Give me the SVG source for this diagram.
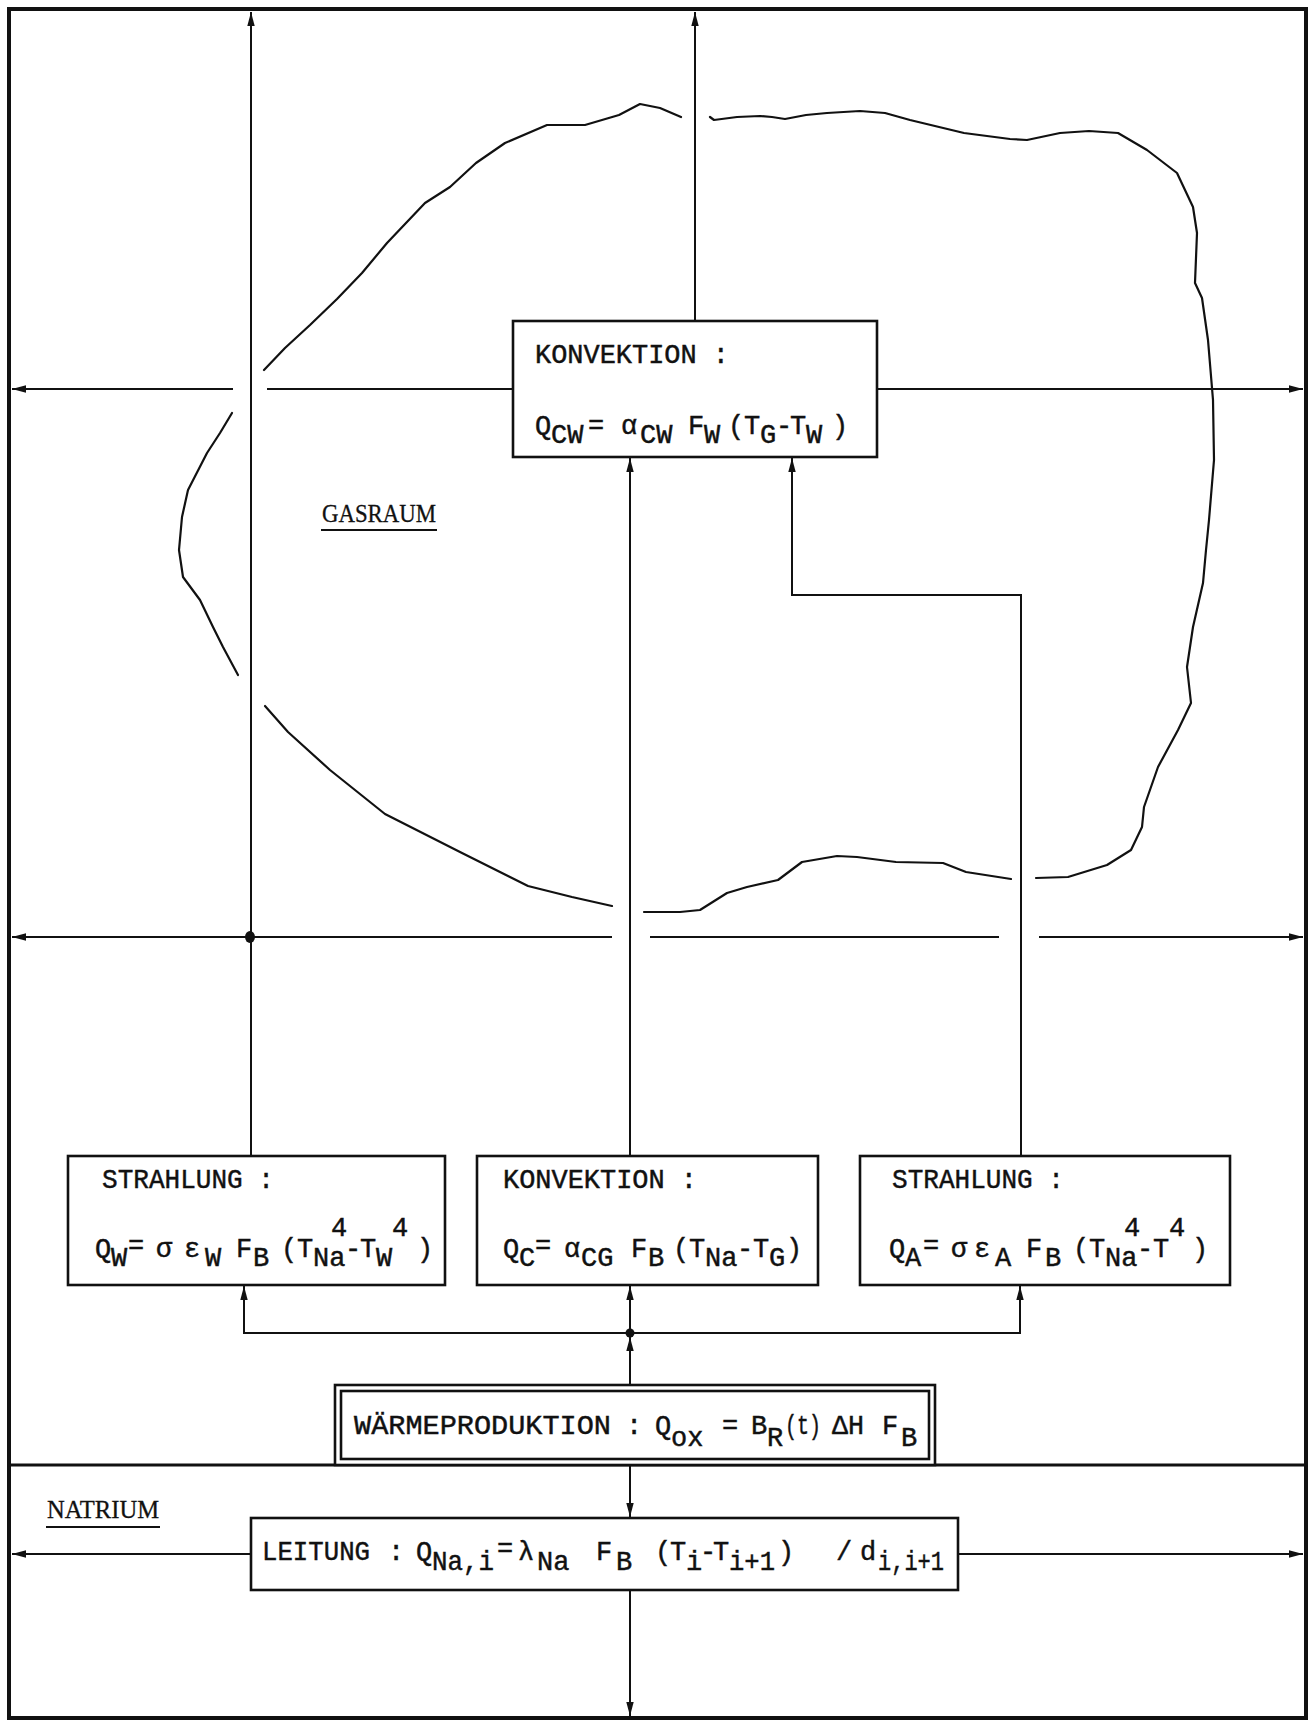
<svg xmlns="http://www.w3.org/2000/svg" width="1314" height="1725" viewBox="0 0 1314 1725">
<style>
.frame{fill:none;stroke:#111;stroke-width:4}
.div{fill:none;stroke:#111;stroke-width:3}
.box{fill:#fff;stroke:#111;stroke-width:2.6}
.ln{fill:none;stroke:#111;stroke-width:2}
.blob{fill:none;stroke:#111;stroke-width:2.2;stroke-linejoin:round;stroke-linecap:round}
.t{font-family:"Liberation Mono","DejaVu Sans Mono",monospace;font-size:27px;fill:#111;stroke:#111;stroke-width:0.45}
.lbl{font-family:"Liberation Serif","Times New Roman",serif;font-size:25px;fill:#111;stroke:#111;stroke-width:0.3}
.ul{stroke:#111;stroke-width:2}
</style>
<defs>
<marker id="ah" markerWidth="15" markerHeight="9" refX="14" refY="4.5" orient="auto" markerUnits="userSpaceOnUse"><path d="M0,0.8 L14,4.5 L0,8.2 Z" fill="#111"/></marker>
</defs>
<rect width="1314" height="1725" fill="#fff"/>
<g id="frame">
<rect class="frame" x="9" y="9" width="1297" height="1709"/>
<line class="div" x1="9" y1="1465" x2="1306" y2="1465"/>
</g>
<g id="gasraum-outline">
<polyline class="blob" points="264,370 285,348 310,325 337,299 362,273 387,243 425,203 450,187 476,163 505,143 547,125 585,125 619,115 640,104 660,108 681,117"/>
<polyline class="blob" points="710,117 714,120 737,117 760,116 772,117 785,119 806,115 827,113 860,111 885,113 910,120 964,133 1010,139 1027,140 1060,133 1089,131 1118,133 1147,150 1177,173 1193,207 1197,233 1195,283 1202,298 1208,340 1213,400 1214,460 1209,520 1206,550 1203,583 1193,627 1187,667 1191,703 1178,730 1158,767 1144,807 1142,827 1131,850 1107,865 1068,877 1036,878"/>
<polyline class="blob" points="1011,879 966,872 943,863 896,862 857,857 837,856 802,862 778,880 747,887 727,893 700,910 680,912 644,912"/>
<polyline class="blob" points="612,906 572,897 528,886 462,853 385,814 330,770 288,732 265,706"/>
<polyline class="blob" points="232,413 220,433 207,453 188,490 182,517 179,550 183,577 200,600 213,627 223,647 238,675"/>
</g>
<g id="label-gasraum">
<text class="lbl" x="322" y="522" textLength="114" lengthAdjust="spacingAndGlyphs">GASRAUM</text>
<line class="ul" x1="321" y1="530" x2="437" y2="530"/>
</g>
<g id="label-natrium">
<text class="lbl" x="47" y="1518" textLength="112" lengthAdjust="spacingAndGlyphs">NATRIUM</text>
<line class="ul" x1="46" y1="1527" x2="160" y2="1527"/>
</g>
<g id="connectors">
<line class="ln" x1="251" y1="1156" x2="251" y2="12" marker-end="url(#ah)"/>
<line class="ln" x1="695" y1="321" x2="695" y2="12" marker-end="url(#ah)"/>
<line class="ln" x1="513" y1="389" x2="267" y2="389"/>
<line class="ln" x1="233" y1="389" x2="12" y2="389" marker-end="url(#ah)"/>
<line class="ln" x1="877" y1="389" x2="1303" y2="389" marker-end="url(#ah)"/>
<line class="ln" x1="630" y1="1156" x2="630" y2="458" marker-end="url(#ah)"/>
<polyline class="ln" points="1021,1156 1021,595 792,595 792,458" marker-end="url(#ah)"/>
<line class="ln" x1="250" y1="937" x2="12" y2="937" marker-end="url(#ah)"/>
<line class="ln" x1="250" y1="937" x2="612" y2="937"/>
<line class="ln" x1="650" y1="937" x2="999" y2="937"/>
<line class="ln" x1="1039" y1="937" x2="1303" y2="937" marker-end="url(#ah)"/>
<ellipse cx="250" cy="937" rx="5" ry="6" fill="#111"/>
<polyline class="ln" points="630,1333 244,1333 244,1286" marker-end="url(#ah)"/>
<polyline class="ln" points="630,1333 1020,1333 1020,1286" marker-end="url(#ah)"/>
<line class="ln" x1="630" y1="1333" x2="630" y2="1286" marker-end="url(#ah)"/>
<circle cx="630" cy="1333" r="4.5" fill="#111"/>
<line class="ln" x1="630" y1="1385" x2="630" y2="1337" marker-end="url(#ah)"/>
<line class="ln" x1="630" y1="1466" x2="630" y2="1517" marker-end="url(#ah)"/>
<line class="ln" x1="251" y1="1554" x2="12" y2="1554" marker-end="url(#ah)"/>
<line class="ln" x1="958" y1="1554" x2="1303" y2="1554" marker-end="url(#ah)"/>
<line class="ln" x1="630" y1="1590" x2="630" y2="1716" marker-end="url(#ah)"/>
</g>
<g id="node-konvektion-wand">
<rect class="box" x="513" y="321" width="364" height="136"/>
<text class="t"><tspan x="535" y="363" textLength="194" lengthAdjust="spacingAndGlyphs">KONVEKTION :</tspan><tspan x="535" y="434">Q</tspan><tspan x="551" y="443">CW</tspan><tspan x="588" y="434">=</tspan><tspan x="621" y="434">α</tspan><tspan x="640" y="443">CW</tspan><tspan x="688" y="434">F</tspan><tspan x="704" y="443">W</tspan><tspan x="728" y="434">(</tspan><tspan x="744" y="434">T</tspan><tspan x="760" y="443">G</tspan><tspan x="776" y="434">-</tspan><tspan x="790" y="434">T</tspan><tspan x="806" y="443">W</tspan><tspan x="832" y="434">)</tspan></text>
</g>
<g id="node-strahlung-wand">
<rect class="box" x="68" y="1156" width="377" height="129"/>
<text class="t"><tspan x="102" y="1188" textLength="172" lengthAdjust="spacingAndGlyphs">STRAHLUNG :</tspan><tspan x="95" y="1257">Q</tspan><tspan x="111" y="1266">W</tspan><tspan x="128" y="1254">=</tspan><tspan x="156" y="1257">σ</tspan><tspan x="184" y="1257">ε</tspan><tspan x="205" y="1266">W</tspan><tspan x="236" y="1257">F</tspan><tspan x="253" y="1266">B</tspan><tspan x="281" y="1257">(</tspan><tspan x="297" y="1257">T</tspan><tspan x="313" y="1266">Na</tspan><tspan x="331" y="1236">4</tspan><tspan x="345" y="1257">-</tspan><tspan x="360" y="1257">T</tspan><tspan x="376" y="1266">W</tspan><tspan x="392" y="1236">4</tspan><tspan x="417" y="1257">)</tspan></text>
</g>
<g id="node-konvektion-gas">
<rect class="box" x="477" y="1156" width="341" height="129"/>
<text class="t"><tspan x="503" y="1188" textLength="194" lengthAdjust="spacingAndGlyphs">KONVEKTION :</tspan><tspan x="503" y="1257">Q</tspan><tspan x="519" y="1266">C</tspan><tspan x="535" y="1254">=</tspan><tspan x="564" y="1257">α</tspan><tspan x="581" y="1266">CG</tspan><tspan x="631" y="1257">F</tspan><tspan x="648" y="1266">B</tspan><tspan x="673" y="1257">(</tspan><tspan x="689" y="1257">T</tspan><tspan x="705" y="1266">Na</tspan><tspan x="737" y="1257">-</tspan><tspan x="753" y="1257">T</tspan><tspan x="769" y="1266">G</tspan><tspan x="786" y="1257">)</tspan></text>
</g>
<g id="node-strahlung-aerosol">
<rect class="box" x="860" y="1156" width="370" height="129"/>
<text class="t"><tspan x="892" y="1188" textLength="172" lengthAdjust="spacingAndGlyphs">STRAHLUNG :</tspan><tspan x="889" y="1257">Q</tspan><tspan x="905" y="1266">A</tspan><tspan x="923" y="1254">=</tspan><tspan x="951" y="1257">σ</tspan><tspan x="974" y="1257">ε</tspan><tspan x="995" y="1266">A</tspan><tspan x="1026" y="1257">F</tspan><tspan x="1045" y="1266">B</tspan><tspan x="1073" y="1257">(</tspan><tspan x="1089" y="1257">T</tspan><tspan x="1105" y="1266">Na</tspan><tspan x="1124" y="1236">4</tspan><tspan x="1137" y="1257">-</tspan><tspan x="1153" y="1257">T</tspan><tspan x="1169" y="1236">4</tspan><tspan x="1192" y="1257">)</tspan></text>
</g>
<g id="node-waermeproduktion">
<rect class="box" x="335" y="1385" width="600" height="80"/>
<rect class="box" x="341" y="1391" width="588" height="68" fill="none"/>
<text class="t"><tspan x="354" y="1434" textLength="257" lengthAdjust="spacingAndGlyphs">WÄRMEPRODUKTION</tspan><tspan x="626" y="1434">:</tspan><tspan x="655" y="1434">Q</tspan><tspan x="671" y="1446">ox</tspan><tspan x="722" y="1434">=</tspan><tspan x="751" y="1434">B</tspan><tspan x="767" y="1446">R</tspan><tspan x="785" y="1434" textLength="36" lengthAdjust="spacingAndGlyphs">(t)</tspan><tspan x="832" y="1434" textLength="32" lengthAdjust="spacingAndGlyphs">ΔH</tspan><tspan x="882" y="1434">F</tspan><tspan x="901" y="1446">B</tspan></text>
</g>
<g id="node-leitung">
<rect class="box" x="251" y="1518" width="707" height="72"/>
<text class="t"><tspan x="262" y="1560" textLength="108" lengthAdjust="spacingAndGlyphs">LEITUNG</tspan><tspan x="388" y="1560">:</tspan><tspan x="416" y="1560">Q</tspan><tspan x="432" y="1570" textLength="62" lengthAdjust="spacingAndGlyphs">Na,i</tspan><tspan x="497" y="1557">=</tspan><tspan x="518" y="1560">λ</tspan><tspan x="537" y="1570">Na</tspan><tspan x="596" y="1560">F</tspan><tspan x="616" y="1570">B</tspan><tspan x="655" y="1560">(</tspan><tspan x="670" y="1560">T</tspan><tspan x="686" y="1570">i</tspan><tspan x="700" y="1560">-</tspan><tspan x="713" y="1560">T</tspan><tspan x="729" y="1570" textLength="46" lengthAdjust="spacingAndGlyphs">i+1</tspan><tspan x="778" y="1560">)</tspan><tspan x="836" y="1560">/</tspan><tspan x="860" y="1560">d</tspan><tspan x="878" y="1570" textLength="66" lengthAdjust="spacingAndGlyphs">i,i+1</tspan></text>
</g>
</svg>
